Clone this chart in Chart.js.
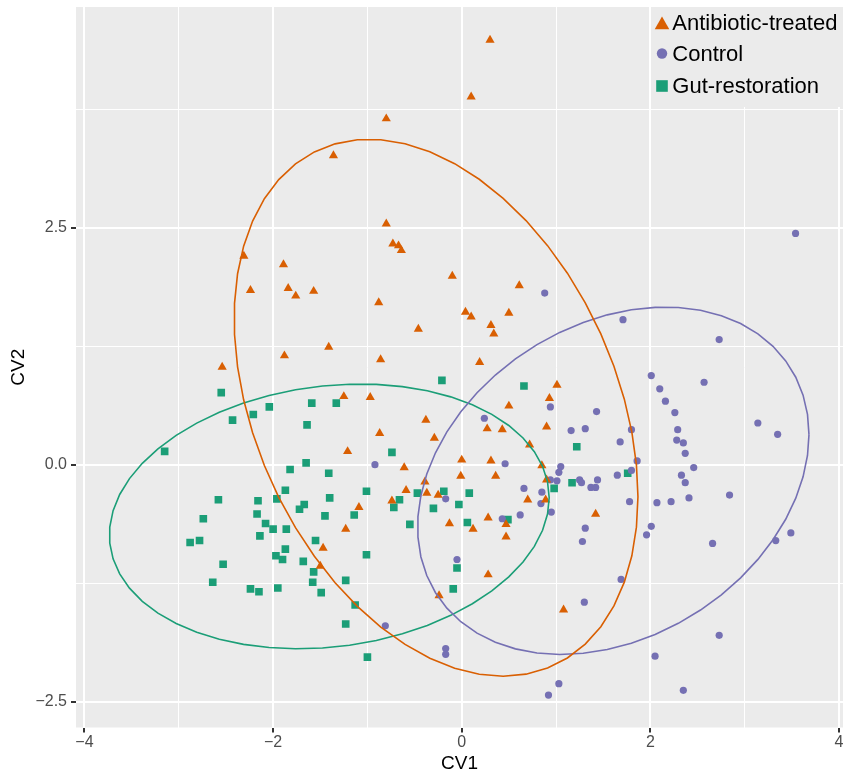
<!DOCTYPE html>
<html>
<head>
<meta charset="utf-8">
<title>CV1 vs CV2</title>
<script src="https://cdn.jsdelivr.net/npm/chart.js@4/dist/chart.umd.min.js"></script>
<style>
  html, body { margin: 0; padding: 0; background: #ffffff; }
  #wrap { width: 843px; height: 773px; position: relative; }
</style>
</head>
<body>
<div id="wrap"><canvas id="cv" width="843" height="773"></canvas></div>
<script>
// ---- groups ----
const groupNames = ['Antibiotic-treated', 'Control', 'Gut-restoration'];
const groupColors = ['#D95F02', '#7570B3', '#1B9E77'];
const groupShapes = ['triangle', 'circle', 'rect'];

// ---- canonical variate scores per sample ----
const antibioticCV1 = [0.30, 0.10, -0.80, -1.36, -0.80, -0.73, -0.67, -0.64, -0.10, 0.61,
  -0.88, 0.04, 0.10, 0.50, -0.46, 0.31, 0.34, -1.41, -0.86, 0.19,
  -2.31, -1.89, -2.24, -1.84, -1.76, -1.57, -1.88, -2.54, -1.25, -0.97,
  1.01, 0.93, 0.50, -0.38, -0.87, -0.29, 0.27, 0.43, 0.90, 0.72,
  -1.21, -0.61, 0.00, -0.01, 0.31, 0.36, 0.85, 0.90, -0.39, -0.59,
  -0.37, -0.25, -0.74, -1.09, 0.89, 0.70, -1.23, -0.13, 0.12, 0.28,
  0.47, 0.47, -1.47, -1.50, 0.28, -0.24, 1.08, 1.42];
const antibioticCV2 = [4.48, 3.88, 3.65, 3.26, 2.54, 2.33, 2.31, 2.26, 1.99, 1.89,
  1.71, 1.61, 1.56, 1.60, 1.43, 1.47, 1.38, 1.24, 1.11, 1.08,
  2.20, 2.11, 1.84, 1.86, 1.78, 1.83, 1.15, 1.03, 0.72, 0.71,
  0.84, 0.70, 0.62, 0.47, 0.33, 0.28, 0.38, 0.37, 0.40, 0.21,
  0.14, -0.03, 0.05, -0.12, 0.04, -0.12, -0.01, -0.16, -0.18, -0.27,
  -0.30, -0.32, -0.38, -0.45, -0.37, -0.37, -0.68, -0.62, -0.68, -0.56,
  -0.63, -0.76, -0.88, -1.07, -1.16, -1.38, -1.53, -0.52];

const controlCV1 = [0.88, 3.54, 1.71, 2.73, 0.94, 0.24, 1.16, 1.31, -0.92, 0.46,
  1.05, 1.03, 0.94, 1.01, 1.25, 1.27, 1.37, 1.42, 0.66, 0.85,
  -0.17, 0.84, 0.95, 0.62, 0.43, 1.31, 1.28, -0.05, 1.30, -0.81,
  -0.17, -0.17, 1.03, 0.92, 2.01, 2.10, 2.57, 2.16, 2.26, 1.43,
  1.80, 2.29, 1.68, 2.28, 2.35, 2.37, 3.14, 3.35, 1.86, 2.46,
  1.80, 1.65, 2.33, 2.37, 1.44, 1.78, 2.07, 2.22, 2.41, 2.84,
  2.01, 1.96, 2.66, 3.33, 3.49, 1.69, 2.73, 2.05, 2.35];
const controlCV2 = [1.81, 2.44, 1.53, 1.32, 0.61, 0.49, 0.36, 0.38, 0.00, 0.01,
  -0.02, -0.08, -0.16, -0.17, -0.16, -0.19, -0.24, -0.24, -0.25, -0.29,
  -0.36, -0.41, -0.50, -0.53, -0.57, -0.67, -0.81, -1.00, -1.45, -1.70,
  -1.94, -2.00, -2.31, -2.43, 0.94, 0.80, 0.87, 0.67, 0.55, 0.56,
  0.37, 0.37, 0.24, 0.26, 0.23, 0.12, 0.44, 0.32, 0.04, -0.03,
  -0.06, -0.11, -0.11, -0.19, -0.16, -0.39, -0.40, -0.39, -0.35, -0.32,
  -0.65, -0.74, -0.83, -0.80, -0.72, -1.21, -1.80, -2.02, -2.38];

const gutCV1 = [-2.55, -2.04, -1.59, -2.21, -2.43, -1.64, -3.15, -1.65, -1.82, -1.41,
  -1.87, -1.96, -1.40, -2.58, -2.16, -1.67, -1.72, -2.17, -1.45, -2.74,
  -2.08, -2.00, -1.86, -2.14, -1.55, -2.78, -2.88, -1.87, -1.97, -1.90,
  -1.68, -2.53, -1.57, -2.64, -1.58, -2.24, -2.15, -1.95, -1.49, -0.21,
  0.66, -1.33, 1.22, -0.74, -1.01, -0.47, -0.66, -0.72, -0.19, 0.08,
  -0.03, -0.30, 0.98, 1.17, -1.14, -0.55, 0.06, 0.49, -1.01, -0.05,
  -1.23, -0.09, -1.13, -1.23, -1.00, 1.76];
const gutCV2 = [0.76, 0.61, 0.65, 0.53, 0.47, 0.42, 0.14, 0.02, -0.05, -0.09,
  -0.27, -0.36, -0.35, -0.37, -0.38, -0.42, -0.47, -0.52, -0.54, -0.57,
  -0.62, -0.68, -0.68, -0.75, -0.80, -0.80, -0.82, -0.89, -0.96, -1.00,
  -1.02, -1.05, -1.13, -1.24, -1.24, -1.31, -1.34, -1.30, -1.35, 0.89,
  0.83, 0.65, 0.19, 0.13, -0.28, -0.30, -0.37, -0.45, -0.28, -0.30,
  -0.42, -0.46, -0.25, -0.19, -0.53, -0.63, -0.61, -0.58, -0.95, -1.09,
  -1.22, -1.31, -1.48, -1.68, -2.03, -0.09];

// ---- axes ----
const xTicks = [-4, -3, -2, -1, 0, 1, 2, 3, 4];
const xMajor = [-4, -2, 0, 2, 4];
const yTicks = [-2.5, -1.25, 0, 1.25, 2.5, 3.75];
const yMajor = [-2.5, 0, 2.5];
const xLimits = [-4.09, 4.043];
const yLimits = [-2.772, 4.828];

const FONT = "'Liberation Sans', Arial, Helvetica, sans-serif";
Chart.defaults.font.family = FONT;

const seriesX = [antibioticCV1, controlCV1, gutCV1];
const seriesY = [antibioticCV2, controlCV2, gutCV2];

// Robust multivariate-t scatter (as MASS::cov.trob, nu = 5)
function covTrob(xs, ys, nu = 5, maxit = 25, tol = 0.01) {
  const n = xs.length, p = 2;
  let loc = [xs.reduce((a, b) => a + b, 0) / n, ys.reduce((a, b) => a + b, 0) / n];
  let w = new Array(n).fill(1);
  let X = [];
  for (let iter = 0; iter < maxit; iter++) {
    const w0 = w.slice();
    X = xs.map((v, i) => [v - loc[0], ys[i] - loc[1]]);
    const sw = w.reduce((a, b) => a + b, 0);
    let m11 = 0, m12 = 0, m22 = 0;
    X.forEach((d, i) => {
      const f = w[i] / sw;
      m11 += f * d[0] * d[0]; m12 += f * d[0] * d[1]; m22 += f * d[1] * d[1];
    });
    const det = m11 * m22 - m12 * m12;
    const Q = X.map(d => (m22 * d[0] * d[0] - 2 * m12 * d[0] * d[1] + m11 * d[1] * d[1]) / det);
    w = Q.map(q => (nu + p) / (nu + q));
    const sw2 = w.reduce((a, b) => a + b, 0);
    loc = [xs.reduce((a, v, i) => a + w[i] * v, 0) / sw2,
           ys.reduce((a, v, i) => a + w[i] * v, 0) / sw2];
    if (w.every((v, i) => Math.abs(v - w0[i]) < tol)) break;
  }
  let c11 = 0, c12 = 0, c22 = 0;
  X.forEach((d, i) => {
    c11 += w[i] * d[0] * d[0]; c12 += w[i] * d[0] * d[1]; c22 += w[i] * d[1] * d[1];
  });
  return { center: loc, cov: [c11 / n, c12 / n, c22 / n] };
}

// 95% confidence ellipse outline (t-based, 51 segments)
function confidenceEllipse(xs, ys, level = 0.95, segments = 51) {
  const { center, cov } = covTrob(xs, ys);
  const dfd = xs.length - 1;
  const qf = (dfd / 2) * (Math.pow(1 - level, -2 / dfd) - 1);
  const radius = Math.sqrt(2 * qf);
  const a = Math.sqrt(cov[0]);
  const b = cov[1] / a;
  const c = Math.sqrt(cov[2] - b * b);
  const out = [];
  for (let k = 0; k <= segments; k++) {
    const t = k * 2 * Math.PI / segments;
    const u = Math.cos(t), v = Math.sin(t);
    out.push({ x: center[0] + radius * a * u, y: center[1] + radius * (b * u + c * v) });
  }
  return out;
}

const pointRadius = { triangle: 5.3, circle: 3.6, rect: 5.4 };

const pointSets = groupNames.map((name, g) => ({
  label: name,
  data: seriesX[g].map((v, i) => ({ x: v, y: seriesY[g][i] })),
  pointStyle: groupShapes[g],
  pointRadius: pointRadius[groupShapes[g]],
  pointHoverRadius: pointRadius[groupShapes[g]],
  backgroundColor: groupColors[g],
  borderColor: groupColors[g],
  borderWidth: 0,
  showLine: false,
  order: 2
}));

const ellipseSets = groupNames.map((name, g) => ({
  label: name + ' ellipse',
  data: confidenceEllipse(seriesX[g], seriesY[g]),
  showLine: true,
  pointRadius: 0,
  pointHoverRadius: 0,
  borderColor: groupColors[g],
  backgroundColor: 'transparent',
  borderWidth: 1.6,
  tension: 0,
  fill: false,
  order: 1,
  isEllipse: true
}));

// grey panel behind the plotting area
const panelBackground = {
  id: 'panelBackground',
  beforeDraw(chart) {
    const { ctx, chartArea: a } = chart;
    ctx.save();
    ctx.fillStyle = '#EBEBEB';
    ctx.fillRect(a.left, a.top, a.right - a.left, a.bottom - a.top);
    ctx.restore();
  }
};

// legend drawn inside the panel, top right
const insideLegend = {
  id: 'insideLegend',
  afterDraw(chart) {
    const { ctx } = chart;
    const sets = chart.data.datasets.filter(d => !d.isEllipse);
    const markX = 662, textX = 672.3;
    const markY = [25, 53.5, 86];
    const baseY = [29.6, 61.2, 92.6];
    ctx.save();
    ctx.fillStyle = '#EBEBEB';
    ctx.fillRect(652, chart.chartArea.top, chart.chartArea.right - 652, 100);
    sets.forEach((d, i) => {
      ctx.fillStyle = d.backgroundColor;
      const y = markY[i];
      ctx.beginPath();
      if (d.pointStyle === 'triangle') {
        const r = 8.4;
        ctx.moveTo(markX, y - r);
        ctx.lineTo(markX + r * Math.sqrt(3) / 2, y + r / 2);
        ctx.lineTo(markX - r * Math.sqrt(3) / 2, y + r / 2);
        ctx.closePath();
      } else if (d.pointStyle === 'circle') {
        ctx.arc(markX, y, 5.2, 0, Math.PI * 2);
      } else {
        ctx.rect(markX - 5.8, y - 5.8, 11.6, 11.6);
      }
      ctx.fill();
      ctx.fillStyle = '#000000';
      ctx.font = '22px ' + FONT;
      ctx.textAlign = 'left';
      ctx.textBaseline = 'alphabetic';
      ctx.fillText(d.label, textX, baseY[i]);
    });
    ctx.restore();
  }
};

const isIn = (arr, v) => arr.some(m => Math.abs(m - v) < 1e-9);
const minusFmt = (v, digits) => (v < 0 ? '\u2212' : '') + Math.abs(v).toFixed(digits);

// fixed axis sizes, no extra room reserved for edge labels
const fixSize = (s, key, size) => {
  s[key] = size;
  s.paddingLeft = 0; s.paddingRight = 0; s.paddingTop = 0; s.paddingBottom = 0;
};

new Chart(document.getElementById('cv'), {
  type: 'scatter',
  data: { datasets: [...ellipseSets, ...pointSets] },
  plugins: [panelBackground, insideLegend],
  options: {
    responsive: false,
    animation: false,
    events: [],
    layout: { autoPadding: false, padding: { top: 7, right: 0, bottom: 0, left: 0 } },
    plugins: { legend: { display: false }, tooltip: { enabled: false } },
    scales: {
      x: {
        type: 'linear',
        min: xLimits[0],
        max: xLimits[1],
        afterBuildTicks: s => { s.ticks = xTicks.map(v => ({ value: v })); },
        afterFit: s => fixSize(s, 'height', 45.5),
        border: { display: false },
        grid: {
          color: '#FFFFFF',
          lineWidth: c => (c.tick && isIn(xMajor, c.tick.value)) ? 2 : 1,
          tickColor: c => (c.tick && isIn(xMajor, c.tick.value)) ? '#333333' : 'rgba(0,0,0,0)',
          tickLength: 5,
          tickWidth: 2
        },
        ticks: {
          autoSkip: false,
          maxRotation: 0,
          padding: 2.5,
          color: '#4D4D4D',
          font: { size: 16, lineHeight: 1 },
          callback: v => isIn(xMajor, v) ? minusFmt(v, 0) : ''
        },
        title: {
          display: true,
          text: 'CV1',
          color: '#000000',
          font: { size: 19, lineHeight: 1 },
          padding: { top: 0, bottom: 0 }
        }
      },
      y: {
        type: 'linear',
        min: yLimits[0],
        max: yLimits[1],
        afterBuildTicks: s => { s.ticks = yTicks.map(v => ({ value: v })); },
        afterFit: s => fixSize(s, 'width', 76),
        border: { display: false },
        grid: {
          color: '#FFFFFF',
          lineWidth: c => (c.tick && isIn(yMajor, c.tick.value)) ? 2 : 1,
          tickColor: c => (c.tick && isIn(yMajor, c.tick.value)) ? '#333333' : 'rgba(0,0,0,0)',
          tickLength: 5,
          tickWidth: 2
        },
        ticks: {
          autoSkip: false,
          padding: 4,
          color: '#4D4D4D',
          font: { size: 16, lineHeight: 1 },
          callback: v => isIn(yMajor, v) ? minusFmt(v, 1) : ''
        },
        title: {
          display: true,
          text: 'CV2',
          color: '#000000',
          font: { size: 19, lineHeight: 1 },
          padding: { top: 9.7, bottom: 0 }
        }
      }
    }
  }
});
</script>
</body>
</html>
